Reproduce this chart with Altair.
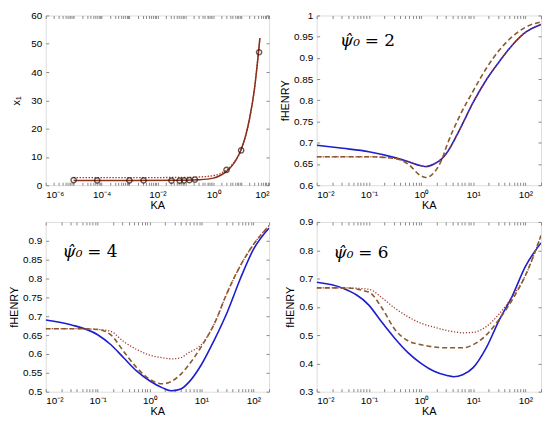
import altair as alt
import pandas as pd

FONT = "Liberation Sans"
AX = "#262626"
BLUE = "#1e1ecc"
BROWN = "#8a5a2e"
DOTRED = "#a33a2a"
LINE1 = "#8b2f1a"

# ---------------- panel 1 : x1 vs KA ----------------
p1_circle_ka = [1e-5, 7e-5, 1e-3, 3.2e-3, 0.032, 0.063, 0.09, 0.14, 0.22, 3.0, 10, 44]
p1_circle_x1 = [1.8, 1.7, 1.7, 1.7, 1.6, 1.6, 1.7, 1.8, 2.0, 5.4, 12.3, 47]
p1_line_ka = [1e-5, 1e-3, 0.1, 0.3, 1, 2, 3, 5, 7, 10, 15, 20, 30, 40, 47]
p1_line_x1 = [1.7, 1.7, 1.75, 1.9, 2.5, 3.7, 4.9, 7.2, 9.4, 12.6, 18, 23.5, 34, 45, 52]
p1_dot_ka = [1e-5, 1e-3, 0.1, 0.3, 1, 2, 3, 5, 10, 20, 30, 40, 47]
p1_dot_x1 = [2.7, 2.7, 2.75, 2.9, 3.4, 4.3, 5.4, 7.5, 12.6, 23.5, 34, 45, 52]

# ---------------- panel 2 : psi0 = 2 ----------------
p2_ka = [0.01, 0.0316, 0.1, 0.316, 0.562, 1, 1.26, 1.78, 2.5, 3.16, 5.62, 10, 17.8, 31.6, 56.2, 100, 200]
p2_solid = [0.694, 0.687, 0.679, 0.665, 0.656, 0.646, 0.644, 0.650, 0.662, 0.677, 0.733, 0.795, 0.848, 0.891, 0.930, 0.960, 0.979]
p2_dashed = [0.667, 0.667, 0.667, 0.663, 0.650, 0.622, 0.618, 0.630, 0.660, 0.695, 0.765, 0.822, 0.875, 0.918, 0.950, 0.972, 0.985]
p2_dotted = [0.667, 0.667, 0.667, 0.663, 0.656, 0.646, 0.644, 0.650, 0.662, 0.677, 0.733, 0.795, 0.848, 0.891, 0.930, 0.960, 0.979]

# ---------------- panel 3 : psi0 = 4 ----------------
p3_ka = [0.01, 0.0316, 0.1, 0.178, 0.316, 0.562, 1, 1.78, 2.63, 3.98, 5.62, 10, 17.8, 31.6, 56.2, 100, 200]
p3_solid = [0.690, 0.677, 0.651, 0.625, 0.590, 0.555, 0.529, 0.510, 0.502, 0.507, 0.524, 0.572, 0.638, 0.712, 0.800, 0.877, 0.934]
p3_dashed = [0.667, 0.667, 0.665, 0.651, 0.607, 0.564, 0.533, 0.521, 0.527, 0.546, 0.570, 0.620, 0.681, 0.764, 0.834, 0.890, 0.940]
p3_dotted = [0.667, 0.667, 0.665, 0.660, 0.633, 0.612, 0.597, 0.590, 0.587, 0.590, 0.603, 0.625, 0.681, 0.764, 0.834, 0.890, 0.940]

# ---------------- panel 4 : psi0 = 6 ----------------
p4_ka = [0.01, 0.0316, 0.1, 0.178, 0.316, 0.562, 1, 1.78, 3.16, 4.2, 6.3, 10, 17.8, 31.6, 56.2, 100, 200]
p4_solid = [0.687, 0.666, 0.606, 0.545, 0.488, 0.438, 0.400, 0.372, 0.357, 0.353, 0.360, 0.385, 0.455, 0.553, 0.638, 0.742, 0.826]
p4_dashed = [0.667, 0.667, 0.652, 0.596, 0.520, 0.480, 0.466, 0.458, 0.455, 0.455, 0.455, 0.466, 0.500, 0.556, 0.625, 0.710, 0.852]
p4_dotted = [0.667, 0.667, 0.662, 0.632, 0.595, 0.565, 0.542, 0.528, 0.516, 0.512, 0.508, 0.510, 0.530, 0.575, 0.635, 0.710, 0.852]

# axis ticks (major decades + log minor ticks)
p1_decades = [-6, -5, -4, -3, -2, -1, 0, 1]
ph_decades = [-2, -1, 0, 1, 2]
minor_mult = [1, 2, 3, 4, 5, 6, 7, 8, 9]
x1_ticks = [m * 10.0 ** d for d in p1_decades for m in minor_mult] + [100.0]
xh_ticks = [m * 10.0 ** d for d in ph_decades for m in minor_mult if m * 10.0 ** d <= 200]
p1_label_exps = {-6: "⁻⁶", -4: "⁻⁴", -2: "⁻²", 0: "⁰", 2: "²"}
ph_label_exps = {-2: "⁻²", -1: "⁻¹", 0: "⁰", 1: "¹", 2: "²"}
lg = "(log(datum.value)/LN10)"


def make_label_expr(sup):
    return (
        f"abs({lg} - round({lg})) > 0.001 ? '' : "
        + " : ".join(f"round({lg}) == {e} ? '10{s}'" for e, s in sup.items())
        + " : ''"
    )


ann_psi = "ψ̂₀"
ann_vals = ["= 2", "= 4", "= 6"]

TICK = 3


def x_axis(ticks, lexpr, main):
    if main:
        return alt.Axis(values=ticks, labelExpr=lexpr, title="KA", orient="bottom",
                        labelOverlap=False, offset=-TICK, domain=False, tickSize=TICK,
                        labelPadding=4, titlePadding=0, titleFontWeight="normal", grid=False)
    return alt.Axis(values=ticks, labels=False, title=None, orient="top",
                    offset=-TICK, domain=False, tickSize=TICK, grid=False)


def y_axis(ticks, fmt, title, main, tpad):
    if main:
        return alt.Axis(values=ticks, format=fmt, title=title, orient="left",
                        offset=-TICK, domain=False, tickSize=TICK, labelPadding=4,
                        titlePadding=tpad, titleFontWeight="normal", grid=False)
    return alt.Axis(values=ticks, labels=False, title=None, orient="right",
                    offset=-TICK, domain=False, tickSize=TICK, grid=False)


def enc(dims, axis_mode):
    xdom, xticks, lexpr, ydom, yticks, ytitle, yfmt, tpad = dims
    if axis_mode == "main":
        xa, ya = x_axis(xticks, lexpr, True), y_axis(yticks, yfmt, ytitle, True, tpad)
    elif axis_mode == "mirror":
        xa, ya = x_axis(xticks, lexpr, False), y_axis(yticks, yfmt, ytitle, False, tpad)
    else:
        xa, ya = None, None
    return dict(
        x=alt.X("KA:Q", scale=alt.Scale(type="log", domain=xdom, nice=False), axis=xa),
        y=alt.Y("v:Q", scale=alt.Scale(domain=ydom, nice=False, zero=False), axis=ya),
    )


def line_layer(ka, vals, color, dash, dims, width=1.5, axis_mode=None):
    df = pd.DataFrame({"KA": ka, "v": vals})
    kw = dict(color=color, strokeWidth=width, interpolate="monotone", clip=True)
    if dash:
        kw["strokeDash"] = dash
    return alt.Chart(df).mark_line(**kw).encode(**enc(dims, axis_mode))


def ann_layers(value_text, ka, v, dims):
    df = pd.DataFrame({"KA": [ka], "v": [v], "p": [ann_psi], "t": [value_text]})
    base = alt.Chart(df)
    psi = base.mark_text(
        align="left", baseline="middle", font="DejaVu Serif", fontSize=17,
        fontStyle="italic", color="black"
    ).encode(text="p:N", **enc(dims, None))
    val = base.mark_text(
        align="left", baseline="middle", font="DejaVu Serif", fontSize=17,
        color="black", dx=25
    ).encode(text="t:N", **enc(dims, None))
    return [psi, val]


# panel 1
d1 = ([1e-6, 1e2], x1_ticks, make_label_expr(p1_label_exps), [0, 60],
      [0, 10, 20, 30, 40, 50, 60], "x₁", "d", 9)
c1 = alt.layer(
    line_layer(p1_dot_ka, p1_dot_x1, DOTRED, [1.5, 1.5], d1, width=1.3, axis_mode="main"),
    line_layer(p1_line_ka, p1_line_x1, LINE1, None, d1, width=1.5, axis_mode="mirror"),
    alt.Chart(pd.DataFrame({"KA": p1_circle_ka, "v": p1_circle_x1})).mark_point(
        shape="circle", size=28, filled=False, color="#2a1208", strokeWidth=1.4
    ).encode(**enc(d1, None)),
).resolve_axis(x="independent", y="independent").properties(width=225, height=171)

# panels 2-4
xd = [0.01, 200]
lx = make_label_expr(ph_label_exps)
d2 = (xd, xh_ticks, lx, [0.6, 1.0], [0.6, 0.65, 0.7, 0.75, 0.8, 0.85, 0.9, 0.95, 1.0], "fHENRY", "~g", 3)
d3 = (xd, xh_ticks, lx, [0.5, 0.95], [0.5, 0.55, 0.6, 0.65, 0.7, 0.75, 0.8, 0.85, 0.9], "fHENRY", "~g", 3)
d4 = (xd, xh_ticks, lx, [0.3, 0.9], [0.3, 0.4, 0.5, 0.6, 0.7, 0.8, 0.9], "fHENRY", "~g", 3)


def fpanel(ka, solid, dotted, dashed, dims, ann_text, ann_ka, ann_v, w, h):
    return alt.layer(
        line_layer(ka, solid, BLUE, None, dims, width=1.6, axis_mode="main"),
        line_layer(ka, dotted, DOTRED, [1.2, 1.8], dims, width=1.3, axis_mode="mirror"),
        line_layer(ka, dashed, BROWN, [5, 3], dims, width=1.6),
        *ann_layers(ann_text, ann_ka, ann_v, dims),
    ).resolve_axis(x="independent", y="independent").properties(width=w, height=h)


c2 = fpanel(p2_ka, p2_solid, p2_dotted, p2_dashed, d2, ann_vals[0], 0.028, 0.94, 226, 171)
c3 = fpanel(p3_ka, p3_solid, p3_dotted, p3_dashed, d3, ann_vals[1], 0.021, 0.87, 225, 171)
c4 = fpanel(p4_ka, p4_solid, p4_dotted, p4_dashed, d4, ann_vals[2], 0.021, 0.79, 226, 171)

chart = alt.concat(
    c1, c2, c3, c4,
    columns=2,
    spacing={"row": 37, "column": 48},
    bounds="flush",
).properties(padding=0).configure_axis(
    labelFont=FONT, titleFont=FONT, labelFontSize=9, titleFontSize=10,
    titleFontWeight="normal", labelColor=AX, titleColor=AX,
    tickColor=AX, tickWidth=0.8, grid=False,
).configure_view(stroke=AX, strokeWidth=1).configure(background="white")

chart.save("out.html", embed_options={"renderer": "svg", "actions": False})
